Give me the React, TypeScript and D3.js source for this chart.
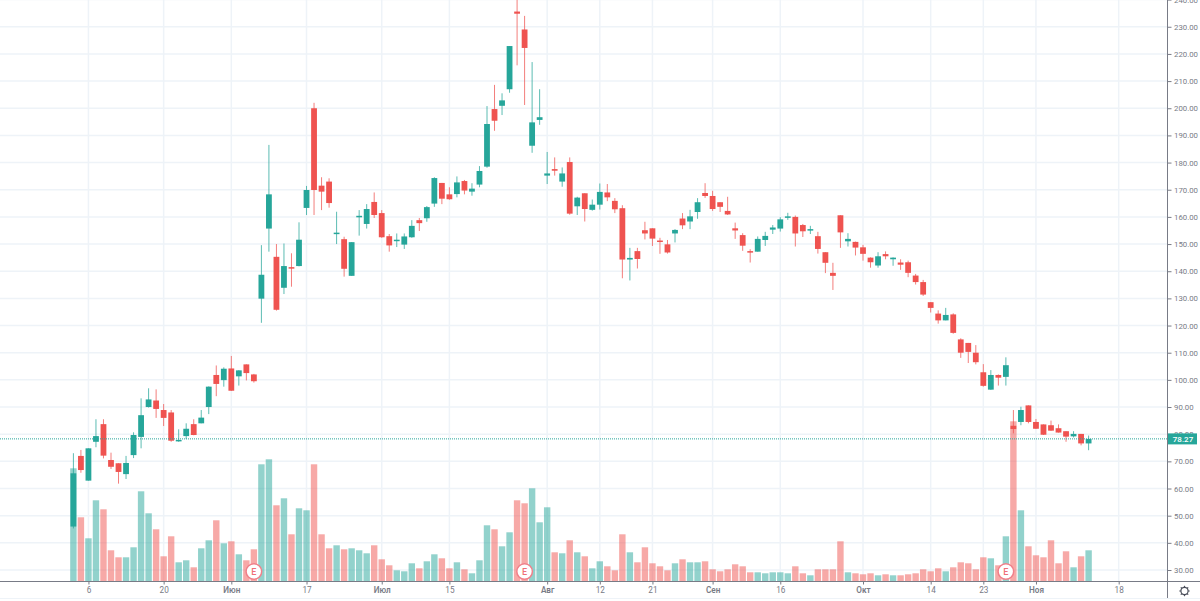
import React, { useEffect, useRef } from 'react';
import * as d3 from 'd3';

const opens = [
  46, 72, 62.9, 77.2, 83.7, 70.5, 69.3, 65.3, 72.3, 79,
  90, 92.4, 88.9, 88, 77.4, 79.3, 83.7, 84, 90, 101.8,
  99.9, 104.2, 101.3, 105.7, 102, 129.9, 155.7, 145.3, 133.9, 141.5,
  141.9, 163.3, 200, 171.5, 173, 153.7, 151.8, 138.3, 159.9, 157.4,
  165.5, 161.4, 152.9, 151.1, 149.8, 152.5, 158.8, 159.5, 164.9, 172.5,
  168.3, 168.4, 173.2, 169.3, 171.9, 178.5, 199.7, 200.9, 207, 235.6,
  229, 186.2, 195.7, 175.2, 177.6, 173, 180.2, 163.9, 168.7, 162.6,
  164.5, 169, 165.9, 163.2, 144.3, 147.4, 155.1, 155.8, 151.3, 149.9,
  153.9, 159.4, 158.3, 161.8, 168.8, 167.7, 165.4, 162.2, 155.8, 153.3,
  147.4, 147.2, 151.5, 155.3, 155.7, 159.9, 160, 157, 155, 152.9,
  147, 139.4, 160.6, 151, 150.8, 148.8, 145, 142.1, 146.3, 144.4,
  143.2, 143.3, 138.4, 136, 128.6, 124.4, 121.9, 124.1, 114.9, 113.6,
  110, 102.8, 96.4, 101.8, 101.1, 83.1, 84.5, 90.6, 84.5, 83.6,
  83.3, 82.2, 81.1, 79.2, 80.1, 76.6,
];

const highs = [
  73, 74.2, 74.8, 85.5, 85.5, 73.2, 69.3, 72, 80.7, 93.2,
  96.9, 96.5, 91.1, 88.9, 81.8, 84, 85.5, 88.9, 97.6, 105.3,
  104.6, 108.8, 103.6, 105.7, 102.2, 149.6, 186.5, 150, 150.2, 146.6,
  158, 171.4, 202, 174.6, 174.2, 161.9, 152.7, 150.7, 162.5, 164.7,
  169, 162.5, 153.7, 153.9, 153.9, 158.8, 159.6, 164, 174.6, 172.5,
  170.9, 174.9, 173.6, 172.4, 178.7, 200.8, 208.6, 205.5, 222.9, 241,
  234, 217, 207, 183.9, 181.9, 178.2, 181.9, 167.4, 168.7, 166.4,
  172.3, 172.1, 166.9, 164.3, 148.6, 148.6, 158.2, 155.8, 152.3, 151.5,
  155.5, 161.4, 162.6, 166.9, 172.4, 169.6, 165.4, 167.4, 157.9, 154,
  148.1, 152.8, 154.5, 157, 159.9, 161.5, 160.5, 157.4, 156.7, 154.5,
  147, 143.1, 160.6, 154, 150.9, 149.7, 145.1, 147, 147.3, 145.1,
  144.4, 143.9, 139, 136.8, 128.6, 125.6, 126.5, 124.5, 115.3, 113.6,
  112.8, 105.8, 103.6, 102, 108.3, 88.9, 90.1, 90.6, 85.6, 83.6,
  85, 83.6, 81.1, 81.1, 80.1, 79.5,
];

const lows = [
  45.3, 65.8, 62.9, 75.2, 71.1, 67.2, 61.8, 63.5, 71.2, 74.8,
  89.8, 86, 83, 77.2, 77.2, 78.2, 79.6, 84, 87.4, 94,
  97.5, 95.9, 97.9, 99.8, 99, 121, 147.2, 125.5, 131.6, 134.3,
  141.8, 160.7, 160.7, 162.5, 163.4, 150, 138, 138.3, 153.1, 155.7,
  159.6, 152.3, 147.2, 148.9, 148.2, 152.3, 154.8, 158.2, 163.7, 164.7,
  166.3, 167.2, 168.3, 167.8, 170.9, 178.1, 191.7, 197.5, 205.7, 215.8,
  201.2, 183.6, 193.9, 172.1, 175.2, 171.1, 160.8, 160.7, 158.3, 162.3,
  162.7, 165.8, 161.4, 137.4, 136.6, 141, 151.7, 149.3, 146.4, 146.5,
  150.6, 155.5, 155.5, 159.3, 167, 162.2, 161.8, 160.7, 151.9, 147.5,
  143.2, 147.2, 149.3, 153.7, 154.6, 158.9, 149.1, 152.6, 153.7, 146.5,
  139.3, 133.1, 148.6, 149.1, 145.8, 143.9, 141.3, 141.3, 144.4, 142,
  140.5, 137.8, 135.1, 130.9, 124.8, 120.7, 121.9, 117, 108.1, 106.2,
  105.7, 97.5, 96.3, 97.9, 97.9, 80.3, 83.3, 84, 81.9, 79.7,
  81.2, 80.6, 77.2, 78.8, 75.9, 74.1,
];

const closes = [
  65.6, 66.8, 74.8, 79.3, 72.1, 68, 66.1, 69.4, 79.7, 87,
  92.8, 89.3, 86, 77.6, 77.9, 82, 79.7, 86.1, 97.5, 98.5,
  104.1, 96, 103.5, 102.5, 99.5, 138.7, 168.3, 125.8, 141.9, 141.3,
  151.6, 169.9, 169.9, 169.3, 165.1, 154.2, 140.9, 150.7, 160.4, 162.9,
  160.7, 152.5, 149.5, 151.6, 152.8, 156.7, 157.7, 163.6, 174.3, 166.7,
  166.5, 172.7, 169.7, 170.4, 176.9, 194.2, 195.4, 202.9, 222.9, 234.8,
  222.2, 194.8, 196.7, 176, 177, 176, 161.2, 167.1, 162.9, 164.5,
  169.2, 167.2, 162.8, 144.3, 144.9, 144.5, 153.9, 152, 150.9, 146.9,
  155.2, 156.9, 160.2, 165.4, 167.7, 162.9, 163.7, 160.9, 155, 149.4,
  146.9, 151.9, 153, 156.1, 159.1, 160.2, 153.9, 154.7, 155.5, 148.2,
  143.1, 138.3, 154.3, 151.9, 148.7, 146.4, 143.3, 145.5, 145.5, 145,
  142.4, 139.4, 136, 131.4, 126.5, 121.9, 123.9, 117.3, 110, 110.3,
  106.5, 97.8, 101.8, 100.8, 105.4, 81.9, 88.9, 84.5, 82, 79.8,
  81.3, 80.6, 79.1, 80.1, 76.6, 78.27,
];

const volumes = [
  113, 64, 43, 81, 72, 31, 24, 24, 34, 90,
  68, 52, 25, 45, 19, 21, 14, 33, 41, 61,
  38, 40, 27, 21, 32, 117, 122, 76, 83, 47,
  73, 71, 117, 47, 33, 36, 32, 33, 31, 28,
  36, 22, 16, 11, 10, 18, 13, 20, 27, 23,
  13, 19, 12, 8, 21, 56, 52, 35, 49, 81,
  78, 93, 59, 74, 29, 28, 41, 29, 25, 13,
  20, 15, 11, 47, 29, 19, 34, 18, 15, 11,
  18, 22, 19, 19, 20, 12, 10, 12, 17, 15,
  9, 9, 8, 9, 9, 8, 15, 8, 6, 12,
  12, 12, 40, 9, 8, 7, 8, 6, 7, 6,
  6, 7, 8, 12, 10, 13, 10, 14, 19, 18,
  12, 24, 23, 16, 45, 160, 71, 35, 26, 24,
  41, 18, 30, 14, 25, 31,
];

const dateTicks = [2, 12, 21, 31, 41, 50, 63, 70, 77, 85, 94, 105, 114, 121, 128, 139];
const dateLabels = ['6', '20', 'Июн', '17', 'Июл', '15', 'Авг', '12', '21', 'Сен', '16', 'Окт', '14', '23', 'Ноя', '18'];
const monthLabels = ['Июн', 'Июл', 'Авг', 'Сен', 'Окт', 'Ноя'];
const priceTicks = d3.range(30, 250, 10);
const earnings = [24, 60, 124];
const lastPrice = 78.27;

const UP = '#26a69a';
const DOWN = '#ef5350';
const GRID = '#eef3f8';
const AXIS = '#787b86';
const FONT = 'Roboto, sans-serif';

const width = 1200;
const height = 601;
const axisX = 1167.5;
const axisY = 581.5;

export default function App() {
  const ref = useRef<SVGSVGElement | null>(null);

  useEffect(() => {
    const svg = d3.select(ref.current);
    svg.selectAll('*').remove();

    const x = d3.scaleLinear().domain([0, 135]).range([73.4, 1088.6]);
    const y = d3.scaleLinear().domain([30, 240]).range([570, -0.4]);
    const yVol = d3.scaleLinear().domain([0, 160]).range([581.3, 421.3]);
    const color = (i: number) => (closes[i] >= opens[i] ? UP : DOWN);
    const idx = d3.range(opens.length);

    // grid
    svg.append('g').selectAll('line').data(priceTicks).join('line')
      .attr('x1', 0).attr('x2', axisX)
      .attr('y1', d => y(d)).attr('y2', d => y(d))
      .attr('stroke', GRID).attr('stroke-width', 1.5);
    svg.append('g').selectAll('line').data(dateTicks).join('line')
      .attr('x1', d => x(d)).attr('x2', d => x(d))
      .attr('y1', 0).attr('y2', axisY)
      .attr('stroke', GRID).attr('stroke-width', 1.5);

    // volume
    svg.append('g').selectAll('rect').data(idx).join('rect')
      .attr('x', i => x(i) - 3.2)
      .attr('width', 6.4)
      .attr('y', i => yVol(volumes[i]))
      .attr('height', i => yVol(0) - yVol(volumes[i]))
      .attr('fill', color)
      .attr('fill-opacity', 0.5);

    // candles
    const candles = svg.append('g');
    candles.selectAll('line').data(idx).join('line')
      .attr('x1', i => x(i)).attr('x2', i => x(i))
      .attr('y1', i => y(highs[i])).attr('y2', i => y(lows[i]))
      .attr('stroke', color)
      .attr('stroke-width', 1)
      .attr('stroke-opacity', 0.75);
    candles.selectAll('rect').data(idx).join('rect')
      .attr('x', i => x(i) - 2.9)
      .attr('width', 5.8)
      .attr('y', i => y(Math.max(opens[i], closes[i])))
      .attr('height', i => Math.max(1.5, Math.abs(y(opens[i]) - y(closes[i]))))
      .attr('fill', color);

    // last price line
    svg.append('line')
      .attr('x1', 0).attr('x2', axisX)
      .attr('y1', y(lastPrice)).attr('y2', y(lastPrice))
      .attr('stroke', UP)
      .attr('stroke-dasharray', '1 1');

    // earnings badges
    const badge = svg.append('g').selectAll('g').data(earnings).join('g')
      .attr('transform', d => `translate(${x(d)},571.5)`);
    badge.append('circle').attr('r', 7.8)
      .attr('fill', '#fff').attr('stroke', '#f0808a').attr('stroke-width', 1.5);
    badge.append('text').text('E')
      .attr('text-anchor', 'middle').attr('dy', '0.35em')
      .attr('fill', '#ef7078').attr('font-family', FONT)
      .attr('font-size', 9).attr('font-weight', 500);

    // price axis
    const priceAxis = svg.append('g')
      .attr('transform', `translate(${axisX},0)`)
      .call(d3.axisRight(y).tickValues(priceTicks).tickSize(4).tickPadding(2.5).tickFormat(d3.format('.2f')) as any);
    priceAxis.select('.domain').remove();
    priceAxis.selectAll('text').attr('fill', AXIS).attr('font-family', FONT).attr('font-size', 7.8);
    priceAxis.selectAll('line').attr('stroke', AXIS);

    // time axis
    const timeAxis = svg.append('g')
      .attr('transform', `translate(0,${axisY})`)
      .call(d3.axisBottom(x).tickValues(dateTicks).tickSize(3).tickPadding(3)
        .tickFormat((_, i) => dateLabels[i]) as any);
    timeAxis.select('.domain').remove();
    timeAxis.selectAll('text')
      .attr('fill', AXIS).attr('font-family', FONT).attr('font-size', 8.2)
      .attr('font-weight', (_, i) => (monthLabels.includes(dateLabels[i]) ? 600 : 400));
    timeAxis.selectAll('line').attr('stroke', AXIS);

    // axis frame
    svg.append('line').attr('x1', 0).attr('x2', width).attr('y1', axisY).attr('y2', axisY).attr('stroke', AXIS);
    svg.append('line').attr('x1', axisX).attr('x2', axisX).attr('y1', 0).attr('y2', 598).attr('stroke', AXIS);
    svg.append('line').attr('x1', 0).attr('x2', width).attr('y1', 598.5).attr('y2', 598.5).attr('stroke', GRID);

    // last price label
    const label = svg.append('g').attr('transform', `translate(1168,${y(lastPrice)})`);
    label.append('rect').attr('x', 0).attr('y', -5.5).attr('width', 29).attr('height', 11).attr('fill', UP);
    label.append('text').text(lastPrice.toFixed(2))
      .attr('x', 15).attr('dy', '0.35em').attr('text-anchor', 'middle')
      .attr('fill', '#fff').attr('font-family', FONT).attr('font-size', 8).attr('font-weight', 500);

    // settings gear
    const gear = svg.append('g').attr('transform', 'translate(1184.5,591)')
      .attr('fill', 'none').attr('stroke', '#4a4e5a');
    gear.append('circle').attr('r', 3.6).attr('stroke-width', 1.2);
    gear.selectAll('line').data(d3.range(8)).join('line')
      .attr('x1', d => 3.6 * Math.cos(d * Math.PI / 4))
      .attr('y1', d => 3.6 * Math.sin(d * Math.PI / 4))
      .attr('x2', d => 5.2 * Math.cos(d * Math.PI / 4))
      .attr('y2', d => 5.2 * Math.sin(d * Math.PI / 4))
      .attr('stroke-width', 1.2);
  }, []);

  return (
    <svg
      ref={ref}
      width={width}
      height={height}
      style={{ position: 'absolute', left: 0, top: 0, display: 'block', background: '#fff' }}
    />
  );
}
